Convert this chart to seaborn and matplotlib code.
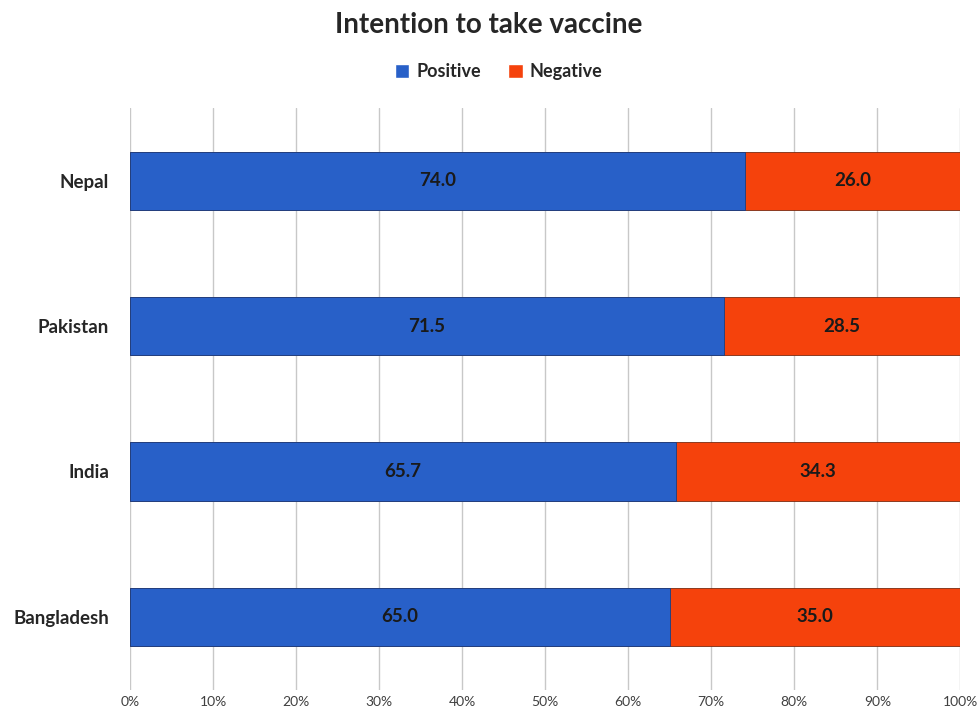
import matplotlib
matplotlib.use("Agg")
import matplotlib.pyplot as plt
import seaborn as sns
import pandas as pd
from matplotlib.patches import Patch

countries = ["Nepal", "Pakistan", "India", "Bangladesh"]
positive = [74.0, 71.5, 65.7, 65.0]
negative = [26.0, 28.5, 34.3, 35.0]
xticks = [0, 10, 20, 30, 40, 50, 60, 70, 80, 90, 100]

blue = "#2860c8"
red = "#f5420c"

sns.set_theme(style="white")
plt.rcParams["font.family"] = ["Lato", "DejaVu Sans"]

df = pd.DataFrame({"country": countries, "positive": positive, "negative": negative})
df["total"] = df["positive"] + df["negative"]

fig = plt.figure(figsize=(9.78, 7.16), dpi=100)
ax = fig.add_axes([0.133, 0.037, 0.849, 0.812])

# grid first so bars sit on top
for x in xticks:
    ax.axvline(x, color="#c8c8c8", lw=1, zorder=0)

# stacked: draw total in red, positive in blue over it
sns.barplot(data=df, y="country", x="total", color=red, orient="h",
            width=0.4, ax=ax, saturation=1, edgecolor="#7a2a10", linewidth=0.6, zorder=2)
sns.barplot(data=df, y="country", x="positive", color=blue, orient="h",
            width=0.4, ax=ax, saturation=1, edgecolor="#1a3d80", linewidth=0.6, zorder=3)

# value labels
for i, (p, n) in enumerate(zip(positive, negative)):
    ax.text(p / 2, i, f"{p:.1f}", ha="center", va="center",
            fontsize=13.5, fontweight="bold", color="#1a1a1a", zorder=4)
    ax.text(p + n / 2, i, f"{n:.1f}", ha="center", va="center",
            fontsize=13.5, fontweight="bold", color="#1a1a1a", zorder=4)

ax.set_xlim(0, 100)
ax.set_ylim(3.5, -0.5)
ax.set_xticks(xticks)
ax.set_xticklabels([f"{x}%" for x in xticks], fontsize=10, color="#404040")
ax.tick_params(axis="x", length=0, pad=5)
ax.tick_params(axis="y", length=0, pad=15)
for lbl in ax.get_yticklabels():
    lbl.set_fontsize(13.5)
    lbl.set_fontweight("bold")
    lbl.set_color("#262626")
ax.set_xlabel("")
ax.set_ylabel("")
for s in ax.spines.values():
    s.set_visible(False)

fig.text(0.5, 0.965, "Intention to take vaccine", ha="center", va="center",
         fontsize=20, fontweight="bold", color="#262626")

handles = [Patch(facecolor=blue, label="Positive"), Patch(facecolor=red, label="Negative")]
leg = fig.legend(handles=handles, loc="center", bbox_to_anchor=(0.51, 0.9), ncol=2,
                 frameon=False, handlelength=0.8, handleheight=0.8, handletextpad=0.4,
                 columnspacing=1.5, prop={"size": 13, "weight": "bold"})
for t in leg.get_texts():
    t.set_color("#262626")

fig.savefig("out.png", dpi=100)
